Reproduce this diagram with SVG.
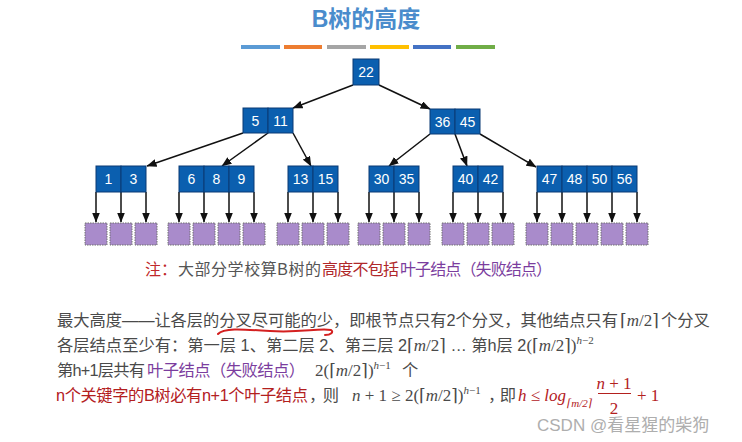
<svg xmlns="http://www.w3.org/2000/svg" width="742" height="442" viewBox="0 0 742 442">
<defs>
<marker id="ah" markerUnits="userSpaceOnUse" markerWidth="10" markerHeight="8" refX="9.5" refY="4" orient="auto">
<path d="M0,0 L10,4 L0,8 Z" fill="#111"/>
</marker>
<style>
.cell{fill:#0b5faf;stroke:#0a3b74;stroke-width:1}
.key{fill:#fff;font-family:"Liberation Sans",Arial,sans-serif;font-size:14px;text-anchor:middle}
.leaf{fill:#a98bcb;stroke:#707070;stroke-width:1;stroke-dasharray:1.5 1}
.edge{stroke:#111;stroke-width:1.5;fill:none;marker-end:url(#ah)}
.txt{font-family:"Liberation Sans","Noto Sans CJK SC",sans-serif;font-size:16.3px;fill:#4a4a4a}
.red{fill:#b3201e}
.pur{fill:#7b3d9e}
.math{font-family:"Liberation Serif","DejaVu Serif",serif;font-size:17px}
.sm{font-size:11px}
.it{font-style:italic}
</style>
</defs>
<rect width="742" height="442" fill="#fff"/>

<g id="title">
<text x="366" y="27" text-anchor="middle" font-family="Liberation Sans,Noto Sans CJK SC,sans-serif" font-size="23" font-weight="bold" fill="#4a8ccc">B树的高度</text>
<rect x="241" y="45" width="39" height="4" fill="#5b9bd5"/>
<rect x="284" y="45" width="38" height="4" fill="#ed7d31"/>
<rect x="327" y="45" width="39" height="4" fill="#a5a5a5"/>
<rect x="370" y="45" width="39" height="4" fill="#ffc000"/>
<rect x="413" y="45" width="38" height="4" fill="#4472c4"/>
<rect x="456" y="45" width="39" height="4" fill="#70ad47"/>
</g>

<g id="connectors">
<line class="edge" x1="353" y1="85" x2="293" y2="108"/>
<line class="edge" x1="379" y1="85" x2="430" y2="109"/>
<line class="edge" x1="243" y1="133" x2="147" y2="166"/>
<line class="edge" x1="268" y1="133" x2="222" y2="166"/>
<line class="edge" x1="293" y1="133" x2="311" y2="166"/>
<line class="edge" x1="430" y1="134" x2="389" y2="166"/>
<line class="edge" x1="455" y1="134" x2="467" y2="166"/>
<line class="edge" x1="480" y1="134" x2="536" y2="167"/>
<line class="edge" x1="96" y1="192" x2="96" y2="222"/>
<line class="edge" x1="121" y1="192" x2="121" y2="222"/>
<line class="edge" x1="146" y1="192" x2="146" y2="222"/>
<line class="edge" x1="179" y1="192" x2="179" y2="222"/>
<line class="edge" x1="204" y1="192" x2="204" y2="222"/>
<line class="edge" x1="229" y1="192" x2="229" y2="222"/>
<line class="edge" x1="254" y1="192" x2="254" y2="222"/>
<line class="edge" x1="288" y1="192" x2="288" y2="222"/>
<line class="edge" x1="313" y1="192" x2="313" y2="222"/>
<line class="edge" x1="338" y1="192" x2="338" y2="222"/>
<line class="edge" x1="369" y1="192" x2="369" y2="222"/>
<line class="edge" x1="394" y1="192" x2="394" y2="222"/>
<line class="edge" x1="419" y1="192" x2="419" y2="222"/>
<line class="edge" x1="453" y1="192" x2="453" y2="222"/>
<line class="edge" x1="478" y1="192" x2="478" y2="222"/>
<line class="edge" x1="503" y1="192" x2="503" y2="222"/>
<line class="edge" x1="537" y1="192" x2="537" y2="222"/>
<line class="edge" x1="562" y1="192" x2="562" y2="222"/>
<line class="edge" x1="587" y1="192" x2="587" y2="222"/>
<line class="edge" x1="612" y1="192" x2="612" y2="222"/>
<line class="edge" x1="637" y1="192" x2="637" y2="222"/>
</g>

<g id="n22">
<rect class="cell" x="353" y="59" width="26" height="26"/>
<text class="key" x="366" y="77">22</text>
</g>
<g id="n5_11">
<rect class="cell" x="243" y="108" width="25" height="25"/>
<rect class="cell" x="268" y="108" width="25" height="25"/>
<text class="key" x="255.5" y="126">5</text>
<text class="key" x="280.5" y="126">11</text>
</g>
<g id="n36_45">
<rect class="cell" x="430" y="109" width="25" height="25"/>
<rect class="cell" x="455" y="109" width="25" height="25"/>
<text class="key" x="442.5" y="127">36</text>
<text class="key" x="467.5" y="127">45</text>
</g>
<g id="n1_3">
<rect class="cell" x="96" y="166" width="25" height="26"/>
<rect class="cell" x="121" y="166" width="25" height="26"/>
<text class="key" x="108.5" y="184">1</text>
<text class="key" x="133.5" y="184">3</text>
</g>
<g id="n6_8_9">
<rect class="cell" x="179" y="166" width="25" height="26"/>
<rect class="cell" x="204" y="166" width="25" height="26"/>
<rect class="cell" x="229" y="166" width="25" height="26"/>
<text class="key" x="191.5" y="184">6</text>
<text class="key" x="216.5" y="184">8</text>
<text class="key" x="241.5" y="184">9</text>
</g>
<g id="n13_15">
<rect class="cell" x="288" y="166" width="25" height="26"/>
<rect class="cell" x="313" y="166" width="25" height="26"/>
<text class="key" x="300.5" y="184">13</text>
<text class="key" x="325.5" y="184">15</text>
</g>
<g id="n30_35">
<rect class="cell" x="369" y="166" width="25" height="26"/>
<rect class="cell" x="394" y="166" width="25" height="26"/>
<text class="key" x="381.5" y="184">30</text>
<text class="key" x="406.5" y="184">35</text>
</g>
<g id="n40_42">
<rect class="cell" x="453" y="166" width="25" height="26"/>
<rect class="cell" x="478" y="166" width="25" height="26"/>
<text class="key" x="465.5" y="184">40</text>
<text class="key" x="490.5" y="184">42</text>
</g>
<g id="n47_56">
<rect class="cell" x="537" y="166" width="25" height="26"/>
<rect class="cell" x="562" y="166" width="25" height="26"/>
<rect class="cell" x="587" y="166" width="25" height="26"/>
<rect class="cell" x="612" y="166" width="25" height="26"/>
<text class="key" x="549.5" y="184">47</text>
<text class="key" x="574.5" y="184">48</text>
<text class="key" x="599.5" y="184">50</text>
<text class="key" x="624.5" y="184">56</text>
</g>

<g id="leaves">
<rect class="leaf" x="85" y="223" width="22" height="22"/>
<rect class="leaf" x="110" y="223" width="22" height="22"/>
<rect class="leaf" x="135" y="223" width="22" height="22"/>
<rect class="leaf" x="168" y="223" width="22" height="22"/>
<rect class="leaf" x="193" y="223" width="22" height="22"/>
<rect class="leaf" x="218" y="223" width="22" height="22"/>
<rect class="leaf" x="243" y="223" width="22" height="22"/>
<rect class="leaf" x="277" y="223" width="22" height="22"/>
<rect class="leaf" x="302" y="223" width="22" height="22"/>
<rect class="leaf" x="327" y="223" width="22" height="22"/>
<rect class="leaf" x="358" y="223" width="22" height="22"/>
<rect class="leaf" x="383" y="223" width="22" height="22"/>
<rect class="leaf" x="408" y="223" width="22" height="22"/>
<rect class="leaf" x="442" y="223" width="22" height="22"/>
<rect class="leaf" x="467" y="223" width="22" height="22"/>
<rect class="leaf" x="492" y="223" width="22" height="22"/>
<rect class="leaf" x="526" y="223" width="22" height="22"/>
<rect class="leaf" x="551" y="223" width="22" height="22"/>
<rect class="leaf" x="576" y="223" width="22" height="22"/>
<rect class="leaf" x="601" y="223" width="22" height="22"/>
<rect class="leaf" x="626" y="223" width="22" height="22"/>
</g>

<g id="note" font-family="Liberation Sans,Noto Sans CJK SC,sans-serif" font-size="16">
<text x="145" y="275" fill="#c0282a" textLength="32">注：</text>
<text x="178" y="275" fill="#555" textLength="143">大部分学校算B树的</text>
<text x="322" y="275" fill="#b0282a" textLength="77">高度不包括</text>
<text x="400" y="275" fill="#7b3d9e" textLength="152">叶子结点（失败结点）</text>
</g>

<g id="text">
<text class="txt" x="57" y="326" textLength="561">最大高度——让各层的分叉尽可能的少，即根节点只有2个分叉，其他结点只有</text>
<text class="math" x="620" y="326" fill="#4a4a4a">⌈<tspan class="it">m</tspan>/2⌉</text>
<text class="txt" x="661" y="326">个分叉</text>
<path d="M218,334 C223,328 240,329 270,331 S318,328 331,330 C334,332 331,335 325,335" fill="none" stroke="#d42020" stroke-width="2" stroke-linecap="round"/>

<text class="txt" x="57" y="351">各层结点至少有：第一层 1、第二层 2、第三层 2<tspan class="math">⌈<tspan class="it">m</tspan>/2⌉</tspan> … 第h层 2<tspan class="math">(⌈<tspan class="it">m</tspan>/2⌉)</tspan><tspan class="math it sm" dy="-7">h</tspan><tspan class="math sm">−2</tspan></text>

<text class="txt" x="57" y="376" textLength="88">第h+1层共有</text>
<text class="txt pur" x="147" y="376" textLength="158">叶子结点（失败结点）</text>
<text class="math" x="315" y="376" fill="#4a4a4a">2(⌈<tspan class="it">m</tspan>/2⌉)<tspan class="it sm" dy="-7">h</tspan><tspan class="sm">−1</tspan></text>
<text class="txt" x="402" y="376">个</text>

<text class="txt red" x="56" y="401" textLength="252">n个关键字的B树必有n+1个叶子结点</text>
<text class="txt" x="309" y="401" textLength="30">，则</text>
<text class="math" x="352" y="401" fill="#4a4a4a"><tspan class="it">n</tspan> + 1 ≥ 2(⌈<tspan class="it">m</tspan>/2⌉)<tspan class="it sm" dy="-7">h</tspan><tspan class="sm">−1</tspan></text>
<text class="txt" x="488" y="401" textLength="28">，即</text>
<text class="math red" x="518" y="401"><tspan class="it">h</tspan> ≤ <tspan class="it">log</tspan></text>
<text class="math red it sm" x="567" y="407">⌈m/2⌉</text>
<text class="math red" x="614" y="389" text-anchor="middle"><tspan class="it">n</tspan> + 1</text>
<line x1="598" y1="393.5" x2="631" y2="393.5" stroke="#b3201e" stroke-width="1"/>
<text class="math red" x="614" y="414" text-anchor="middle">2</text>
<text class="math red" x="637" y="401">+ 1</text>
</g>

<g id="watermark">
<text x="537" y="431" font-family="Liberation Sans,Noto Sans CJK SC,sans-serif" font-size="17" fill="#9a9a9a" opacity="0.8">CSDN @看星猩的柴狗</text>
</g>
</svg>
